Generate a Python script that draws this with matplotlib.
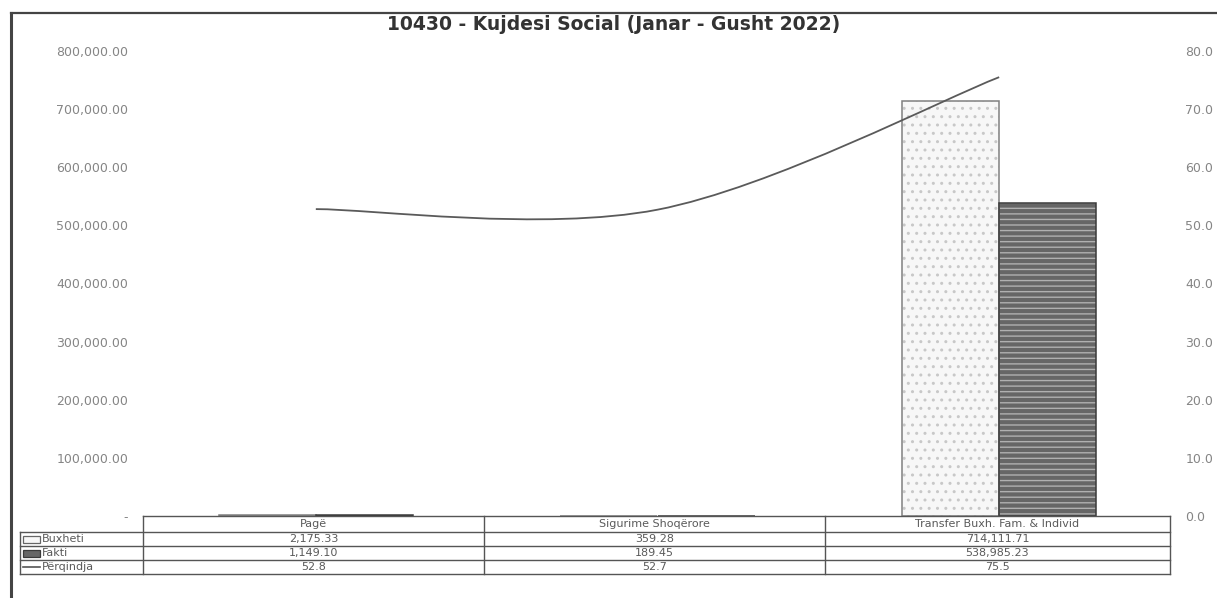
import numpy as np
import matplotlib
matplotlib.use("Agg")
import matplotlib.pyplot as plt
from matplotlib.path import Path
from matplotlib.patches import PathPatch, Rectangle

# ---- data ----
categories = ["Pagë", "Sigurime Shoqërore", "Transfer Buxh. Fam. & Individ"]
buxheti = [2175.33, 359.28, 714111.71]
fakti = [1149.10, 189.45, 538985.23]
perqindja = [52.8, 52.7, 75.5]
series_names = ["Buxheti", "Fakti", "Përqindja"]
title = "10430 - Kujdesi Social (Janar - Gusht 2022)"
left_ticks = [0, 100000, 200000, 300000, 400000, 500000, 600000, 700000, 800000]
right_ticks = [0, 10, 20, 30, 40, 50, 60, 70, 80]

W, H = 1217, 598
plt.rcParams["font.family"] = ["DejaVu Sans"]
fig = plt.figure(figsize=(W / 100, H / 100), dpi=100)
fig.patch.set_facecolor("white")

# plot area in pixel coordinates
px_l, px_r, px_t, px_b = 145, 1170, 51, 516
ax = fig.add_axes([px_l / W, 1 - px_b / H, (px_r - px_l) / W, (px_b - px_t) / H])
ax.set_xlim(-0.5, len(categories) - 0.5)
ax.set_ylim(0, 800000)
for s in ax.spines.values():
    s.set_visible(False)
ax.set_xticks([])
ax.set_yticks(left_ticks)
ax.set_yticklabels(["-" if v == 0 else f"{v:,.2f}" for v in left_ticks])
ax.tick_params(axis="y", length=0, pad=12, labelsize=9, labelcolor="#858585")

x = np.arange(len(categories))
bw = 0.284
# Buxheti: light bars with dotted pattern
ax.bar(x - bw / 2, buxheti, bw, color="#f7f7f7", edgecolor="#c8c8c8",
       hatch="..", linewidth=0, zorder=2)
ax.bar(x - bw / 2, buxheti, bw, fill=False, edgecolor="#808080", linewidth=1.1, zorder=3)
# Fakti: dark bars with horizontal stripes
ax.bar(x + bw / 2, fakti, bw, color="#666666", edgecolor="#b0b0b0",
       hatch="---", linewidth=0, zorder=2)
ax.bar(x + bw / 2, fakti, bw, fill=False, edgecolor="#3a3a3a", linewidth=1.1, zorder=3)

# Përqindja on secondary axis, smoothed Bezier line through the points
ax2 = ax.twinx()
ax2.set_ylim(0, 80)
for s in ax2.spines.values():
    s.set_visible(False)
ax2.set_yticks(right_ticks)
ax2.set_yticklabels([f"{v:.1f}" for v in right_ticks])
ax2.tick_params(axis="y", length=0, pad=11, labelsize=9, labelcolor="#858585")

pts = np.column_stack([x.astype(float), np.array(perqindja, float)])
verts = [pts[0]]
codes = [Path.MOVETO]
n = len(pts)
for i in range(n - 1):
    p_prev = pts[i - 1] if i > 0 else pts[i]
    p_next2 = pts[i + 2] if i + 2 < n else pts[i + 1]
    c1 = pts[i] + (pts[i + 1] - p_prev) / 6.0
    c2 = pts[i + 1] - (p_next2 - pts[i]) / 6.0
    verts += [c1, c2, pts[i + 1]]
    codes += [Path.CURVE4] * 3
ax2.add_patch(PathPatch(Path(verts, codes), fill=False, edgecolor="#5a5a5a",
                        linewidth=1.3, zorder=4))

# ---- overlay: frame, title and data table ----
ov = fig.add_axes([0, 0, 1, 1], zorder=5)
ov.set_xlim(0, W)
ov.set_ylim(H, 0)
ov.axis("off")
ov.patch.set_alpha(0)

frame_c = "#444444"
ov.plot([11, 11], [13, H], color=frame_c, lw=2.2)
ov.plot([11, W], [13, 13], color=frame_c, lw=1.6)

ov.text(614, 25, title, ha="center", va="center", fontsize=13.5,
        fontweight="bold", color="#333333")

# table grid
cols = [143, 484, 825, 1170]
rows = [516, 532, 546, 560, 574]
rh_left = 20
lc = "#555555"
ov.plot([cols[0], cols[-1]], [rows[0], rows[0]], color=lc, lw=1.0)
for yy in rows[1:]:
    ov.plot([rh_left, cols[-1]], [yy, yy], color=lc, lw=1.0)
for xx in cols:
    ov.plot([xx, xx], [rows[0], rows[-1]], color=lc, lw=1.0)
ov.plot([rh_left, rh_left], [rows[1], rows[-1]], color=lc, lw=1.0)

tfs = 8.0
tc = "#5a5a5a"
for j, cat in enumerate(categories):
    cx = (cols[j] + cols[j + 1]) / 2
    ov.text(cx, (rows[0] + rows[1]) / 2, cat, ha="center", va="center",
            fontsize=tfs, color=tc)
    ov.text(cx, (rows[1] + rows[2]) / 2, f"{buxheti[j]:,.2f}", ha="center",
            va="center", fontsize=tfs, color=tc)
    ov.text(cx, (rows[2] + rows[3]) / 2, f"{fakti[j]:,.2f}", ha="center",
            va="center", fontsize=tfs, color=tc)
    ov.text(cx, (rows[3] + rows[4]) / 2, f"{perqindja[j]:.1f}", ha="center",
            va="center", fontsize=tfs, color=tc)

# legend keys in the row headers
ky = [(rows[1] + rows[2]) / 2, (rows[2] + rows[3]) / 2, (rows[3] + rows[4]) / 2]
ov.add_patch(Rectangle((23, ky[0] - 3.5), 17, 7, facecolor="#f7f7f7",
                       edgecolor="#666666", lw=0.9))
ov.add_patch(Rectangle((23, ky[1] - 3.5), 17, 7, facecolor="#666666",
                       edgecolor="#3a3a3a", lw=0.9))
ov.plot([23, 40], [ky[2], ky[2]], color="#555555", lw=1.2)
for name, yy in zip(series_names, ky):
    ov.text(42, yy, name, ha="left", va="center", fontsize=tfs, color=tc)

fig.savefig("out.png", dpi=100)
